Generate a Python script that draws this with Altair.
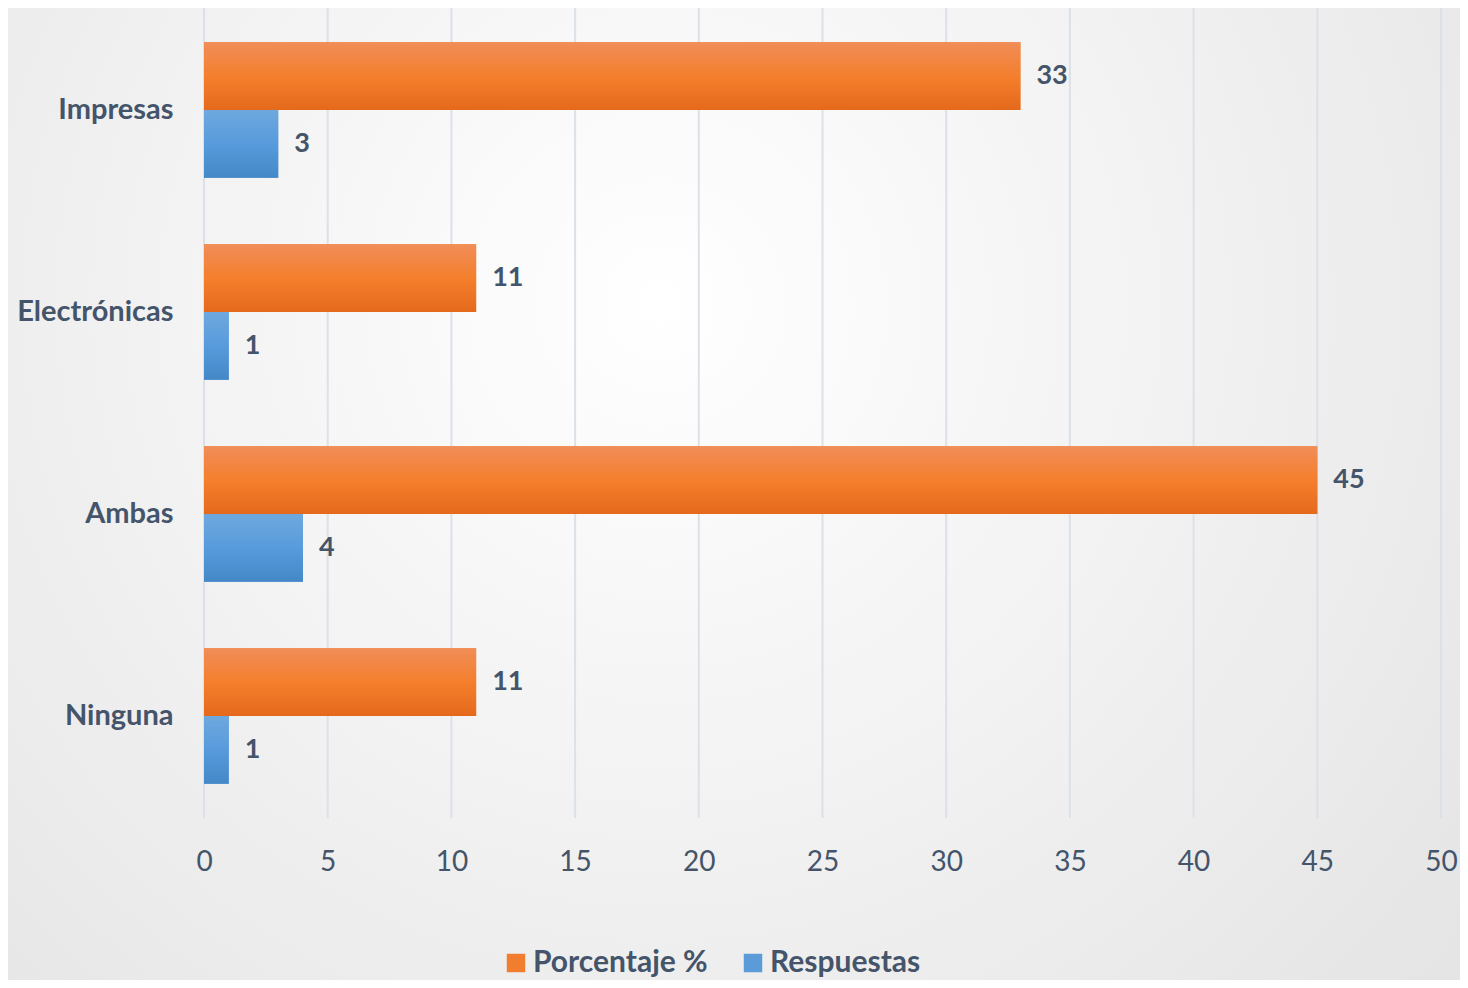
import altair as alt
import pandas as pd

categorias = ["Impresas", "Electrónicas", "Ambas", "Ninguna"]
series = ["Porcentaje %", "Respuestas"]
porcentaje = [33, 11, 45, 11]
respuestas = [3, 1, 4, 1]
ticks = [0, 5, 10, 15, 20, 25, 30, 35, 40, 45, 50]

rows = []
for c, p, r in zip(categorias, porcentaje, respuestas):
    rows.append({"cat": c, "serie": series[0], "valor": p})
    rows.append({"cat": c, "serie": series[1], "valor": r})
df = pd.DataFrame(rows)

W, H = 1237, 810
FONT = "Lato"
TXT = "#44546A"

xscale = alt.Scale(domain=[0, 50], nice=False, zero=True)
yenc = alt.Y("cat:N", sort=categorias, title=None,
             scale=alt.Scale(paddingInner=0.33, paddingOuter=0.17),
             axis=alt.Axis(grid=False, domain=False, ticks=False, labelPadding=31,
                           labelFont=FONT, labelFontSize=29, labelFontWeight="bold",
                           labelColor=TXT, labelLimit=300, zindex=1))
yoff = alt.YOffset("serie:N", sort=series,
                   scale=alt.Scale(domain=series, paddingInner=0, paddingOuter=0))
xenc = alt.X("valor:Q", scale=xscale, title=None,
             axis=alt.Axis(values=ticks, grid=False, domain=False, ticks=False,
                           labelFlush=False,
                           labelPadding=30, labelFont=FONT, labelFontSize=28,
                           labelColor=TXT, zindex=1))

bg = alt.Chart(pd.DataFrame({"a": [0]})).mark_rect(
    fill=alt.RadialGradient(
        gradient="radial", x1=0.45, y1=0.37, x2=0.45, y2=0.37, r1=0, r2=0.72,
        stops=[alt.GradientStop(offset=0, color="#FFFFFF"),
               alt.GradientStop(offset=1, color="#E4E4E4")])
).encode(x=alt.value(-204), x2=alt.value(1264), y=alt.value(-8), y2=alt.value(980))

grid = alt.Chart(pd.DataFrame({"t": ticks})).mark_rule(
    color="#DCE1E8", strokeWidth=2
).encode(x=alt.X("t:Q", scale=xscale, title=None), y=alt.value(0), y2=alt.value(H))

base = alt.Chart(df).encode(y=yenc, yOffset=yoff, x=xenc)

bars = base.mark_bar().encode(
    color=alt.Color("serie:N", sort=series,
                    scale=alt.Scale(domain=series, range=["#F07E2E", "#5A9BD8"]),
                    legend=alt.Legend(title=None, orient="none", direction="horizontal",
                                      legendX=297, legendY=940, symbolType="square",
                                      symbolSize=340, symbolStrokeWidth=0,
                                      labelFont=FONT, labelFontSize=30,
                                      labelFontWeight="bold", labelColor=TXT,
                                      labelLimit=400,
                                      labelOffset=2, columnPadding=30))
)

orange = base.transform_filter(alt.datum.serie == series[0]).mark_bar(
    color=alt.LinearGradient(gradient="linear", x1=0, y1=0, x2=0, y2=1,
                             stops=[alt.GradientStop(offset=0, color="#F18D58"),
                                    alt.GradientStop(offset=0.5, color="#F47F2D"),
                                    alt.GradientStop(offset=1, color="#E6691B")]))
blue = base.transform_filter(alt.datum.serie == series[1]).mark_bar(
    color=alt.LinearGradient(gradient="linear", x1=0, y1=0, x2=0, y2=1,
                             stops=[alt.GradientStop(offset=0, color="#6EA8DE"),
                                    alt.GradientStop(offset=0.5, color="#589BDC"),
                                    alt.GradientStop(offset=1, color="#4588C8")]))

labels = base.mark_text(align="left", baseline="middle", dx=16, font=FONT,
                        fontSize=27, fontWeight="bold", color=TXT).encode(
    text=alt.Text("valor:Q"))

chart = alt.layer(bg, grid, bars, orange, blue, labels).properties(
    width=W, height=H,
    autosize=alt.AutoSizeParams(type="none"),
    padding={"left": 196, "top": 0, "right": 19, "bottom": 162},
).configure_view(stroke=None).configure(background="#EDEDED")

chart.save("out.html", embed_options={"renderer": "svg", "actions": False})
